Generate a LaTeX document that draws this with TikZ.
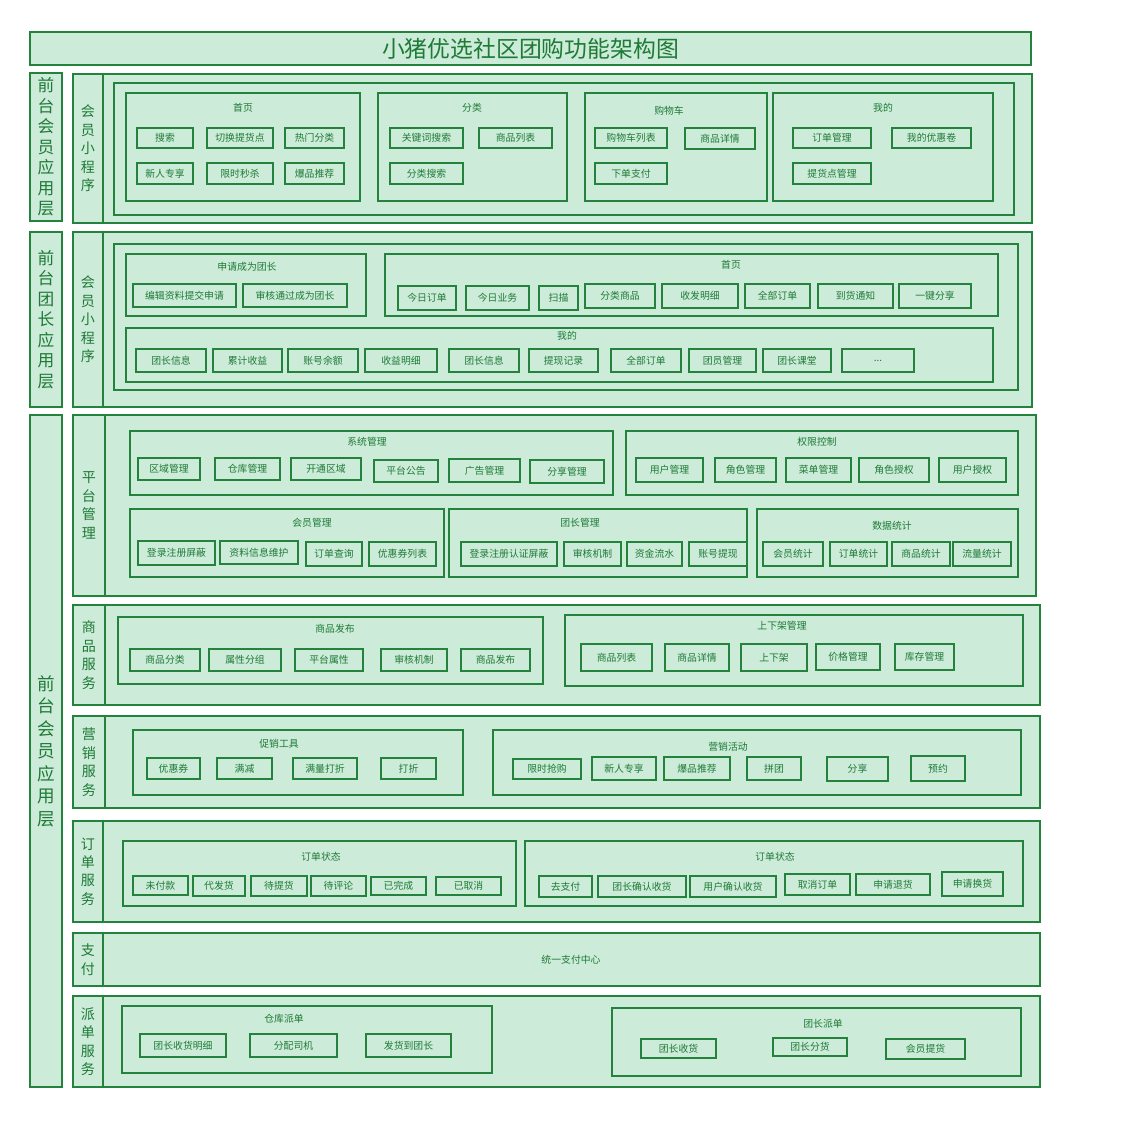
\documentclass[tikz,border=0pt]{standalone}
\usepackage{fontspec}
\setmainfont{Noto Sans CJK SC}
\definecolor{gfill}{HTML}{CCEBD9}
\definecolor{gline}{HTML}{23823C}
\definecolor{gtext}{HTML}{1E7A35}
\tikzset{
 base/.style={draw=gline, fill=gfill, line width=0.8pt, inner sep=0pt, outer sep=0pt, text=gtext},
 itm/.style={base, font=\fontsize{5.6}{6}\selectfont},
 grp/.style={base},
 gtitle/.style={text=gtext, font=\fontsize{5.6}{6}\selectfont, inner sep=0pt},
 vlab/.style={base, align=center, font=\fontsize{9.5}{11.7}\selectfont},
 vlabb/.style={base, align=center, font=\fontsize{10}{12.8}\selectfont},
 slab/.style={base, align=center, font=\fontsize{8}{10.5}\selectfont},
 ttl/.style={base, font=\fontsize{13}{15}\selectfont},
}
\newcommand\Bx[7][itm]{\node[#1, minimum width={(#5-#3)*0.02cm}, minimum height={(#6-#4)*0.02cm}] (#2) at ({(#3+#5)/2},{(#4+#6)/2}) {#7};}
\newcommand\Gt[4]{\node[gtitle] (#1) at (#2,#3) {#4};}
\begin{document}
\begin{tikzpicture}[x=0.02cm, y=-0.02cm]
\useasboundingbox (0,0) rectangle (1124,1124);
% title
\Bx[ttl]{T}{30}{32}{1031}{65}{小猪优选社区团购功能架构图}

% ===== Section 1 =====
\Bx[vlab]{L1}{30}{73}{62}{221}{前\\台\\会\\员\\应\\用\\层}
\Bx[grp]{S1}{73}{74}{1032}{223}{}
\Bx[slab]{S1l}{73}{74}{103}{223}{会\\员\\小\\程\\序}
\Bx[grp]{S1f}{114}{83}{1014}{215}{}
\Bx[grp]{G11}{126}{93}{360}{201}{}
\Gt{G11t}{243}{108}{首页}
\Bx{a1}{137}{128}{193}{148}{搜索}
\Bx{a2}{207}{128}{273}{148}{切换提货点}
\Bx{a3}{285}{128}{344}{148}{热门分类}
\Bx{a4}{137}{163}{193}{184}{新人专享}
\Bx{a5}{207}{163}{273}{184}{限时秒杀}
\Bx{a6}{285}{163}{344}{184}{爆品推荐}
\Bx[grp]{G12}{378}{93}{567}{201}{}
\Gt{G12t}{472}{108}{分类}
\Bx{b1}{390}{128}{463}{148}{关键词搜索}
\Bx{b2}{479}{128}{552}{148}{商品列表}
\Bx{b3}{390}{163}{463}{184}{分类搜索}
\Bx[grp]{G13}{585}{93}{767}{201}{}
\Gt{G13t}{669}{111}{购物车}
\Bx{c1}{595}{128}{667}{148}{购物车列表}
\Bx{c2}{685}{128}{755}{149}{商品详情}
\Bx{c3}{595}{163}{667}{184}{下单支付}
\Bx[grp]{G14}{773}{93}{993}{201}{}
\Gt{G14t}{883}{108}{我的}
\Bx{d1}{793}{128}{871}{148}{订单管理}
\Bx{d2}{892}{128}{971}{148}{我的优惠卷}
\Bx{d3}{793}{163}{871}{184}{提货点管理}

% ===== Section 2 =====
\Bx[vlab]{L2}{30}{232}{62}{407}{前\\台\\团\\长\\应\\用\\层}
\Bx[grp]{S2}{73}{232}{1032}{407}{}
\Bx[slab]{S2l}{73}{232}{103}{407}{会\\员\\小\\程\\序}
\Bx[grp]{S2f}{114}{244}{1018}{390}{}
\Bx[grp]{G21}{126}{254}{366}{316}{}
\Gt{G21t}{247}{267}{申请成为团长}
\Bx{e1}{133}{284}{236}{307}{编辑资料提交申请}
\Bx{e2}{243}{284}{347}{307}{审核通过成为团长}
\Bx[grp]{G22}{385}{254}{998}{316}{}
\Gt{G22t}{731}{265}{首页}
\Bx{f1}{398}{286}{456}{310}{今日订单}
\Bx{f2}{466}{286}{529}{310}{今日业务}
\Bx{f3}{539}{286}{578}{310}{扫描}
\Bx{f4}{585}{284}{655}{308}{分类商品}
\Bx{f5}{662}{284}{738}{308}{收发明细}
\Bx{f6}{745}{284}{810}{308}{全部订单}
\Bx{f7}{818}{284}{893}{308}{到货通知}
\Bx{f8}{899}{284}{971}{308}{一键分享}
\Bx[grp]{G23}{126}{328}{993}{382}{}
\Gt{G23t}{567}{336}{我的}
\Bx{g1}{136}{349}{206}{372}{团长信息}
\Bx{g2}{213}{349}{282}{372}{累计收益}
\Bx{g3}{288}{349}{358}{372}{账号余额}
\Bx{g4}{365}{349}{437}{372}{收益明细}
\Bx{g5}{449}{349}{519}{372}{团长信息}
\Bx{g6}{529}{349}{598}{372}{提现记录}
\Bx{g7}{611}{349}{681}{372}{全部订单}
\Bx{g8}{689}{349}{756}{372}{团员管理}
\Bx{g9}{763}{349}{831}{372}{团长课堂}
\Bx{g10}{842}{349}{914}{372}{...}

% ===== Section 3 =====
\Bx[vlabb]{L3}{30}{415}{62}{1087}{前\\台\\会\\员\\应\\用\\层}

% 平台管理
\Bx[grp]{P1}{73}{415}{1036}{596}{}
\Bx[slab]{P1l}{73}{415}{105}{596}{平\\台\\管\\理}
\Bx[grp]{H1}{130}{431}{613}{495}{}
\Gt{H1t}{367}{442}{系统管理}
\Bx{h1}{138}{458}{200}{480}{区域管理}
\Bx{h2}{215}{458}{280}{480}{仓库管理}
\Bx{h3}{291}{458}{361}{480}{开通区域}
\Bx{h4}{374}{460}{438}{482}{平台公告}
\Bx{h5}{449}{459}{520}{482}{广告管理}
\Bx{h6}{530}{460}{604}{483}{分享管理}
\Bx[grp]{H2}{626}{431}{1018}{495}{}
\Gt{H2t}{817}{442}{权限控制}
\Bx{i1}{636}{458}{703}{482}{用户管理}
\Bx{i2}{715}{458}{776}{482}{角色管理}
\Bx{i3}{786}{458}{851}{482}{菜单管理}
\Bx{i4}{859}{458}{929}{482}{角色授权}
\Bx{i5}{939}{458}{1006}{482}{用户授权}
\Bx[grp]{H3}{130}{509}{444}{577}{}
\Gt{H3t}{312}{523}{会员管理}
\Bx{j1}{138}{541}{215}{565}{登录注册屏蔽}
\Bx{j2}{220}{541}{298}{564}{资料信息维护}
\Bx{j3}{306}{542}{362}{566}{订单查询}
\Bx{j4}{369}{542}{436}{566}{优惠券列表}
\Bx[grp]{H4}{449}{509}{747}{577}{}
\Gt{H4t}{580}{523}{团长管理}
\Bx{k1}{461}{542}{557}{566}{登录注册认证屏蔽}
\Bx{k2}{564}{542}{621}{566}{审核机制}
\Bx{k3}{627}{542}{682}{566}{资金流水}
\Bx{k4}{689}{542}{747}{566}{账号提现}
\Bx[grp]{H5}{757}{509}{1018}{577}{}
\Gt{H5t}{892}{526}{数据统计}
\Bx{l1}{763}{542}{823}{566}{会员统计}
\Bx{l2}{830}{542}{887}{566}{订单统计}
\Bx{l3}{892}{542}{950}{566}{商品统计}
\Bx{l4}{953}{542}{1011}{566}{流量统计}

% 商品服务
\Bx[grp]{P2}{73}{605}{1040}{705}{}
\Bx[slab]{P2l}{73}{605}{105}{705}{商\\品\\服\\务}
\Bx[grp]{M1}{118}{617}{543}{684}{}
\Gt{M1t}{335}{629}{商品发布}
\Bx{m1}{130}{649}{200}{671}{商品分类}
\Bx{m2}{209}{649}{281}{671}{属性分组}
\Bx{m3}{295}{649}{363}{671}{平台属性}
\Bx{m4}{381}{649}{447}{671}{审核机制}
\Bx{m5}{461}{649}{530}{671}{商品发布}
\Bx[grp]{M2}{565}{615}{1023}{686}{}
\Gt{M2t}{782}{626}{上下架管理}
\Bx{n1}{581}{644}{652}{671}{商品列表}
\Bx{n2}{665}{644}{729}{671}{商品详情}
\Bx{n3}{741}{644}{807}{671}{上下架}
\Bx{n4}{816}{644}{880}{670}{价格管理}
\Bx{n5}{895}{644}{954}{670}{库存管理}

% 营销服务
\Bx[grp]{P3}{73}{716}{1040}{808}{}
\Bx[slab]{P3l}{73}{716}{105}{808}{营\\销\\服\\务}
\Bx[grp]{Q1}{133}{730}{463}{795}{}
\Gt{Q1t}{279}{744}{促销工具}
\Bx{q1}{147}{758}{200}{779}{优惠券}
\Bx{q2}{217}{758}{272}{779}{满减}
\Bx{q3}{293}{758}{357}{779}{满量打折}
\Bx{q4}{381}{758}{436}{779}{打折}
\Bx[grp]{Q2}{493}{730}{1021}{795}{}
\Gt{Q2t}{728}{747}{营销活动}
\Bx{r1}{513}{759}{581}{779}{限时抢购}
\Bx{r2}{592}{757}{656}{780}{新人专享}
\Bx{r3}{664}{757}{730}{780}{爆品推荐}
\Bx{r4}{747}{757}{801}{780}{拼团}
\Bx{r5}{827}{757}{888}{781}{分享}
\Bx{r6}{911}{756}{965}{781}{预约}

% 订单服务
\Bx[grp]{P4}{73}{821}{1040}{922}{}
\Bx[slab]{P4l}{73}{821}{103}{922}{订\\单\\服\\务}
\Bx[grp]{O1}{123}{841}{516}{906}{}
\Gt{O1t}{321}{857}{订单状态}
\Bx{o1}{133}{876}{188}{895}{未付款}
\Bx{o2}{193}{876}{245}{896}{代发货}
\Bx{o3}{251}{876}{307}{896}{待提货}
\Bx{o4}{311}{876}{366}{896}{待评论}
\Bx{o5}{371}{877}{426}{895}{已完成}
\Bx{o6}{436}{877}{501}{895}{已取消}
\Bx[grp]{O2}{525}{841}{1023}{906}{}
\Gt{O2t}{775}{857}{订单状态}
\Bx{p1}{539}{876}{592}{897}{去支付}
\Bx{p2}{598}{876}{686}{897}{团长确认收货}
\Bx{p3}{690}{876}{776}{897}{用户确认收货}
\Bx{p4}{785}{874}{850}{895}{取消订单}
\Bx{p5}{856}{874}{930}{895}{申请退货}
\Bx{p6}{942}{872}{1003}{896}{申请换货}

% 支付
\Bx[grp]{P5}{73}{933}{1040}{986}{}
\Bx[slab]{P5l}{73}{933}{103}{986}{支\\付}
\Gt{P5t}{571}{960}{统一支付中心}

% 派单服务
\Bx[grp]{P6}{73}{996}{1040}{1087}{}
\Bx[slab]{P6l}{73}{996}{103}{1087}{派\\单\\服\\务}
\Bx[grp]{W1}{122}{1006}{492}{1073}{}
\Gt{W1t}{284}{1019}{仓库派单}
\Bx{w1}{140}{1034}{226}{1057}{团长收货明细}
\Bx{w2}{250}{1034}{337}{1057}{分配司机}
\Bx{w3}{366}{1034}{451}{1057}{发货到团长}
\Bx[grp]{W2}{612}{1008}{1021}{1076}{}
\Gt{W2t}{823}{1024}{团长派单}
\Bx{x1}{641}{1039}{716}{1058}{团长收货}
\Bx{x2}{773}{1038}{847}{1056}{团长分货}
\Bx{x3}{886}{1039}{965}{1059}{会员提货}
\end{tikzpicture}
\end{document}
